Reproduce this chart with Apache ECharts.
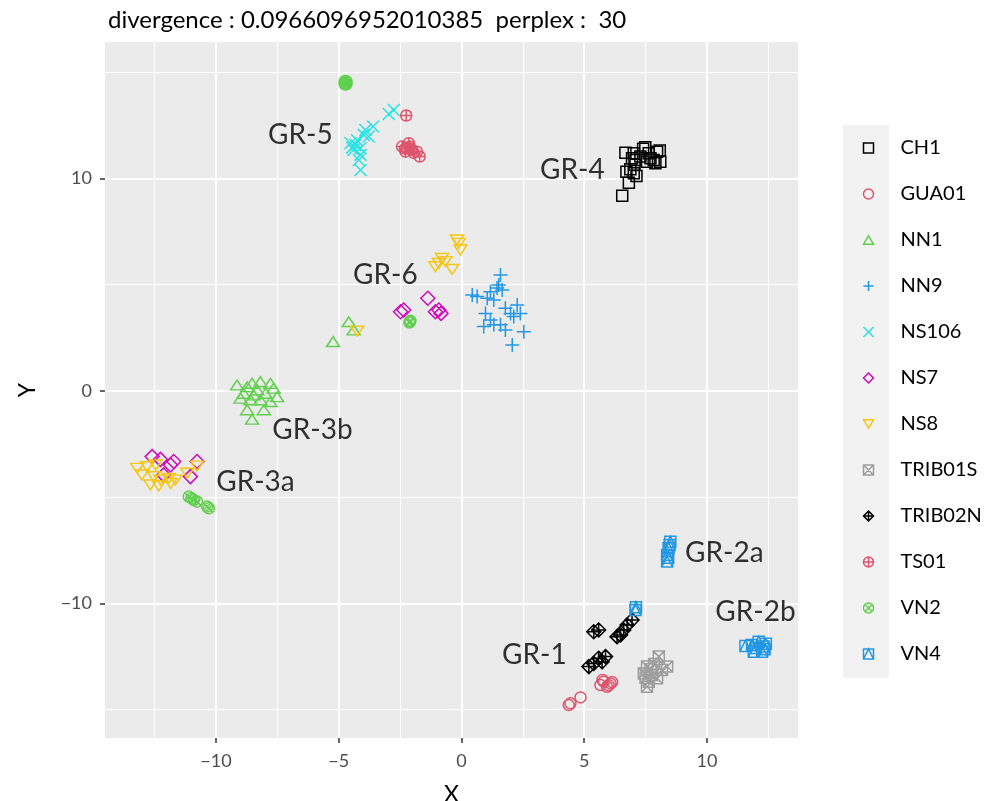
<!DOCTYPE html>
<html><head><meta charset="utf-8">
<script src="https://cdn.jsdelivr.net/npm/echarts@6/dist/echarts.min.js"></script>
<style>html,body{margin:0;padding:0;background:#fff}#c{width:1000px;height:801px}</style>
</head><body><div id="c"></div>
<script>
const groups = ['CH1','GUA01','NN1','NN9','NS106','NS7','NS8','TRIB01S','TRIB02N','TS01','VN2','VN4'];
const colors = ['#000000','#DF536B','#61D04F','#2297E6','#28E2E5','#CD0BBC','#F5C710','#9E9E9E','#000000','#DF536B','#61D04F','#2297E6'];
const xTicks = [-10,-5,0,5,10];
const xMinor = [-12.5,-7.5,-2.5,2.5,7.5,12.5];
const yTicks = [-10,0,10];
const yMinor = [-15,-5,5,15];

const CH1 = [[6.55,9.18],[6.82,9.8],[6.72,10.32],[7.02,10.24],[6.68,11.21],[7.02,11.18],[7.09,10.87],[7.05,10.64],[7.49,11.47],[7.63,11.18],[7.83,10.87],[7.97,11.26],[8.08,11.31],[8.1,10.79],[7.9,10.71],[7.56,10.79],[7.29,11.03],[6.88,10.43],[7.13,10.12],[7.4,11.4],[6.95,10.95],[7.7,10.95]];
const GUA01 = [[5.8,-13.68],[6.07,-13.76],[5.66,-13.84],[5.93,-13.92],[6.14,-13.7],[5.75,-13.6],[6.0,-13.85],[4.85,-14.42],[4.44,-14.7],[4.37,-14.78]];
const NN1 = [[-9.14,0.28],[-8.73,0.2],[-8.53,0.36],[-8.19,0.44],[-7.78,0.36],[-7.65,0.13],[-8.32,0.05],[-8.87,-0.11],[-8.46,-0.19],[-7.98,-0.11],[-7.51,-0.27],[-9.0,-0.34],[-8.59,-0.42],[-8.19,-0.42],[-7.78,-0.5],[-8.73,-0.89],[-8.05,-0.89],[-8.53,-1.33],[-4.59,3.26],[-4.39,2.87],[-5.23,2.32]];
const NN9 = [[1.59,5.46],[1.52,4.99],[1.66,4.75],[0.44,4.52],[0.64,4.44],[1.18,4.67],[1.32,4.28],[1.05,4.36],[2.27,4.05],[1.79,3.89],[2.4,3.65],[2.0,3.65],[2.13,3.5],[0.98,3.65],[1.18,3.34],[0.91,3.03],[1.32,3.11],[1.59,3.11],[1.79,2.87],[2.54,2.79],[2.07,2.16],[1.45,4.85]];
const NS106 = [[-2.76,13.22],[-2.96,13.03],[-3.6,12.44],[-3.91,12.28],[-3.98,12.05],[-3.78,11.97],[-4.52,11.66],[-4.32,11.58],[-4.11,11.42],[-4.39,11.34],[-4.11,11.11],[-4.18,10.87],[-4.11,10.4],[-4.25,11.8],[-4.45,11.45]];
const NS7 = [[-1.37,4.36],[-2.35,3.81],[-2.48,3.73],[-0.92,3.81],[-0.83,3.65],[-1.06,3.73],[-12.6,-3.09],[-12.26,-3.22],[-11.72,-3.32],[-11.85,-3.48],[-10.77,-3.32],[-11.04,-4.03],[-12.13,-3.95]];
const NS8 = [[-0.18,7.11],[-0.11,6.95],[-0.04,6.64],[-0.79,6.24],[-0.92,6.0],[-1.06,5.85],[-0.65,6.09],[-0.38,5.72],[-4.25,2.82],[-13.21,-3.64],[-12.81,-3.56],[-12.46,-3.48],[-13.02,-3.95],[-12.53,-4.03],[-12.26,-4.19],[-11.92,-4.11],[-11.65,-4.19],[-12.67,-4.42],[-12.33,-4.47],[-11.85,-4.35],[-11.17,-3.87],[-10.77,-3.53]];
const TRIB01S = [[8.04,-12.5],[8.38,-12.97],[8.17,-13.13],[7.56,-12.97],[7.43,-13.29],[7.77,-13.36],[7.63,-13.68],[7.56,-13.92],[7.97,-13.52],[7.85,-12.85],[7.5,-13.5],[7.7,-13.1]];
const TRIB02N = [[6.95,-10.78],[6.75,-11.01],[5.59,-11.25],[5.39,-11.33],[6.61,-11.25],[6.48,-11.48],[6.34,-11.56],[5.87,-12.5],[5.59,-12.58],[5.39,-12.82],[5.19,-12.97],[5.73,-12.74]];
const TS01 = [[-2.25,12.96],[-2.42,11.5],[-2.14,11.66],[-2.01,11.34],[-1.81,11.26],[-1.7,11.03],[-2.28,11.26],[-2.21,11.42],[-2.3,11.4],[-2.1,11.5],[-1.95,11.2]];
const VN2 = [[-4.72,14.5],[-4.68,14.44],[-4.76,14.56],[-4.68,14.56],[-4.76,14.44],[-4.72,14.42],[-4.72,14.58],[-2.1,3.26],[-2.12,3.22],[-2.08,3.3],[-11.11,-4.97],[-10.9,-5.13],[-10.77,-5.21],[-11.0,-5.05],[-10.36,-5.44],[-10.29,-5.52]];
const VN4 = [[8.51,-7.09],[8.44,-7.4],[8.38,-7.72],[8.38,-8.03],[8.48,-7.25],[8.42,-7.85],[7.11,-10.18],[7.09,-10.31],[11.57,-12.0],[11.84,-11.95],[12.11,-11.8],[12.31,-12.03],[12.4,-11.9],[11.91,-12.27],[12.25,-12.27],[12.0,-12.1],[12.35,-12.15]];
const seriesData = [CH1,GUA01,NN1,NN9,NS106,NS7,NS8,TRIB01S,TRIB02N,TS01,VN2,VN4];

const clusterLabels = [[-6.56,12.05,'GR-5'],[4.52,10.4,'GR-4'],[-3.1,5.46,'GR-6'],[-6.07,-1.84,'GR-3b'],[-8.39,-4.28,'GR-3a'],[10.71,-7.62,'GR-2a'],[11.98,-10.4,'GR-2b'],[2.97,-12.42,'GR-1']];

const symbols = [
  'path://M0,0L10,0L10,10L0,10Z',
  'circle',
  'path://M0,8.66L5,0L10,8.66Z',
  'path://M0,5L10,5M5,0L5,10',
  'path://M0,0L10,10M10,0L0,10',
  'diamond',
  'path://M0,0L10,0L5,8.66Z',
  'path://M0,0L10,0L10,10L0,10ZM0,0L10,10M10,0L0,10',
  'path://M5,0L10,5L5,10L0,5ZM0,5L10,5M5,0L5,10',
  'path://M0,5A5,5,0,1,1,10,5A5,5,0,1,1,0,5ZM0,5L10,5M5,0L5,10',
  'path://M0,5A5,5,0,1,1,10,5A5,5,0,1,1,0,5ZM1.46,1.46L8.54,8.54M8.54,1.46L1.46,8.54',
  'path://M0,0L10,0L10,10L0,10ZM0,10L5,0L10,10'
];
const sizes = [[11,11],11,[13,11.3],14,12,14,[13,11.3],11,14,11,11,11];

const FONT = 'Lato';
const minus = v => String(v).replace('-', '\u2212');

const series = groups.map((g,i)=>({
  name: g, type: 'scatter', data: seriesData[i],
  symbol: symbols[i], symbolSize: sizes[i], symbolKeepAspect: true,
  itemStyle: {color: 'none', borderColor: colors[i], borderWidth: 1.5, opacity: 1},
  emphasis: {disabled: true}
}));
series.push({
  type: 'scatter', data: clusterLabels, symbolSize: 0, silent: true,
  label: {show: true, position: 'inside', formatter: p => p.data[2], color: '#000', fontSize: 28, fontFamily: FONT},
  tooltip: {show: false}
});

const chart = echarts.init(document.getElementById('c'));
chart.setOption({
  animation: false,
  backgroundColor: '#fff',
  textStyle: {fontFamily: FONT},
  title: {text: 'divergence : 0.0966096952010385  perplex :  30', left: 108, top: 8, padding: 0,
    textStyle: {fontSize: 24, fontWeight: 'normal', color: '#000', fontFamily: FONT}},
  grid: {left: 105, right: 202, top: 42, bottom: 63, show: true, backgroundColor: '#EBEBEB', borderWidth: 0, outerBoundsMode: 'none', containLabel: false},
  xAxis: [
    {type: 'value', min: -14.52, max: 13.71,
     name: 'X', nameLocation: 'middle', nameGap: 45, nameTextStyle: {fontSize: 23, color: '#000', fontFamily: FONT},
     axisLine: {show: false, onZero: false},
     axisTick: {show: true, customValues: xTicks, length: 5, lineStyle: {color: '#333', width: 1.5}},
     axisLabel: {customValues: xTicks, color: '#4D4D4D', fontSize: 18, margin: 14, formatter: minus, fontFamily: FONT},
     splitLine: {show: true, lineStyle: {color: '#fff', width: 2}}},
    {type: 'value', min: -14.52, max: 13.71, position: 'bottom',
     axisLine: {show: false, onZero: false},
     axisTick: {show: false, customValues: xMinor},
     axisLabel: {show: false, customValues: xMinor},
     splitLine: {show: true, lineStyle: {color: '#fff', width: 1}}}
  ],
  yAxis: [
    {type: 'value', min: -16.33, max: 16.42,
     name: 'Y', nameLocation: 'middle', nameGap: 66, nameRotate: 90, nameTextStyle: {fontSize: 23, color: '#000', fontFamily: FONT},
     axisLine: {show: false, onZero: false},
     axisTick: {show: true, customValues: yTicks, length: 5, lineStyle: {color: '#333', width: 1.5}},
     axisLabel: {customValues: yTicks, color: '#4D4D4D', fontSize: 18, margin: 13, formatter: minus, fontFamily: FONT},
     splitLine: {show: true, lineStyle: {color: '#fff', width: 2}}},
    {type: 'value', min: -16.33, max: 16.42, position: 'left',
     axisLine: {show: false, onZero: false},
     axisTick: {show: false, customValues: yMinor},
     axisLabel: {show: false, customValues: yMinor},
     splitLine: {show: true, lineStyle: {color: '#fff', width: 1}}}
  ],
  legend: {
    data: groups, orient: 'vertical', left: 861, top: 138, padding: 0,
    itemWidth: 10, itemHeight: 10, itemGap: 26,
    itemStyle: {borderWidth: 1.5},
    textStyle: {fontSize: 20, lineHeight: 20, color: '#000', fontFamily: FONT, padding: [0,0,0,22]},
    selectedMode: false
  },
  graphic: [{type: 'rect', z: -1, shape: {x: 843, y: 125, width: 46, height: 553}, style: {fill: '#F2F2F2'}}],
  series: series
});
</script></body></html>
